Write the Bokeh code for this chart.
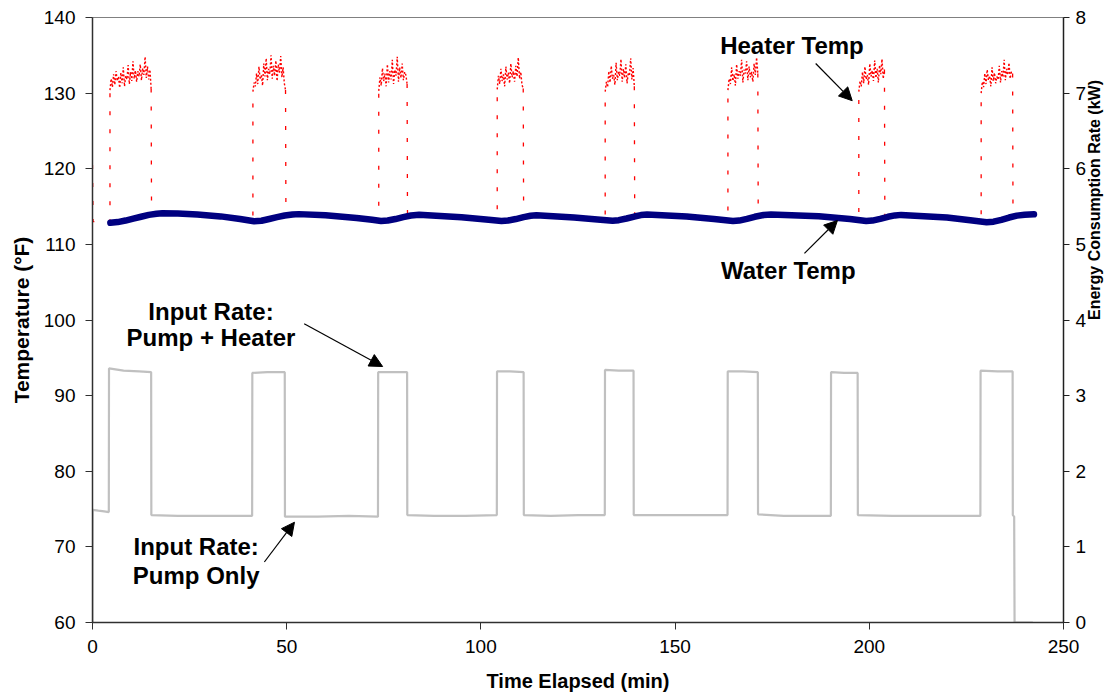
from bokeh.plotting import figure
from bokeh.models import Range1d, LinearAxis, Arrow, NormalHead, Label, FixedTicker
from bokeh.embed import file_html
from bokeh.resources import INLINE
import numpy as np

# ---------------- data ----------------
# Heater on periods (min) read for the heater-temperature trace
heater_on = [4.5, 41.3, 73.7, 104.2, 132.0, 163.6, 197.3, 228.8]
heater_off = [15.1, 49.7, 81.0, 110.9, 139.5, 171.3, 203.9, 236.9]

# Heater temperature (deg F) while heater is on, per cycle
heater_b1 = [130.4, 131.9, 130.8, 132.5, 131.1, 132.9, 131.6, 132.2, 130.7, 132.7, 131.3, 133.4, 130.9, 132.3,
             131.8, 133.7, 131.2, 132.8, 131.6, 134.2, 131.9, 133.0, 131.5, 132.9, 132.2, 133.8, 131.7, 133.3,
             132.4, 134.8, 132.0, 133.5, 131.8, 133.1, 130.6]
heater_b2 = [130.2, 131.4, 130.9, 132.6, 131.2, 133.5, 131.8, 132.4, 131.0, 133.9, 132.2, 134.6, 131.7, 133.2,
             132.5, 135.0, 131.9, 133.6, 132.3, 134.3, 131.6, 133.8, 132.7, 134.9, 132.1, 133.4, 131.3, 130.4]
heater_b3 = [130.3, 132.1, 131.0, 133.3, 131.6, 132.6, 130.9, 133.8, 131.4, 132.9, 131.8, 134.4, 131.2, 133.1,
             132.3, 134.8, 131.5, 133.4, 132.0, 133.9, 131.7, 132.8, 132.4, 131.2]
heater_b4 = [130.5, 132.3, 131.2, 133.2, 131.6, 132.5, 130.9, 133.5, 131.8, 132.7, 131.3, 133.9, 132.1, 132.9,
             131.5, 133.6, 132.2, 134.7, 131.9, 132.8, 131.1, 130.6]
heater_b5 = [130.2, 131.5, 130.8, 132.9, 131.4, 133.6, 131.9, 132.4, 131.1, 134.0, 131.7, 132.8, 132.3, 134.5,
             131.5, 133.2, 132.0, 133.8, 131.3, 132.6, 132.4, 134.6, 131.8, 133.3, 130.9]
heater_b6 = [130.4, 131.9, 131.2, 133.4, 131.6, 132.5, 131.0, 133.8, 131.9, 132.9, 132.3, 134.4, 131.4, 133.1,
             132.6, 134.2, 131.7, 133.5, 132.1, 132.8, 131.5, 133.9, 132.4, 134.7, 132.6]
heater_b7 = [130.2, 131.6, 130.9, 132.8, 131.3, 133.5, 131.8, 132.4, 131.1, 133.9, 132.2, 133.0, 131.6, 134.3,
             132.0, 133.2, 131.4, 133.7, 132.5, 134.5, 131.9, 133.1]
heater_b8 = [130.0, 131.5, 130.8, 132.6, 131.2, 133.1, 131.7, 132.3, 130.9, 133.4, 131.6, 132.7, 131.3, 132.2,
             131.8, 133.6, 131.4, 132.9, 132.1, 134.4, 131.7, 133.2, 132.4, 134.0, 131.9, 132.8, 132.6]

# Heater temperature while heater is off (between cycles)
heater_gap_t = [[0, 0.15, 4.5], [15.2, 18, 30, 41.3], [49.8, 53, 65, 73.7], [81.1, 84, 95, 104.2],
                [111.0, 114, 124, 132.0], [139.6, 143, 153, 163.6], [171.4, 175, 187, 197.3],
                [204.0, 208, 220, 228.8], [237.0, 242.0]]
heater_gap_f = [[120.5, 113.0, 113.0], [114.0, 114.1, 113.7, 112.95], [113.9, 113.95, 113.5, 113.0],
                [113.8, 113.9, 113.55, 113.0], [113.75, 113.8, 113.45, 113.05], [113.8, 113.9, 113.6, 113.0],
                [113.8, 113.9, 113.65, 113.1], [113.7, 113.85, 113.5, 112.85], [113.8, 113.9]]

# Water temperature (deg F)
water_t = [4.6, 6.5, 8.5, 10.5, 12.5, 14.5, 16.5, 18.0, 22, 27, 33, 38, 41.6, 43.5, 45.5, 47.5, 49.5, 51.5, 53.1,
           60, 68, 72, 74.3, 76, 78, 80, 82, 84.1, 95, 102, 105.3, 107, 109, 111, 112.8, 114.3, 124, 130,
           133.9, 135.5, 137.5, 139.5, 141.2, 142.8, 153, 160, 164.9, 166.5, 168.5, 170.5, 172.8, 174.7, 187,
           195, 199.2, 200.8, 202.8, 204.8, 206.6, 208.2, 220, 226, 230.2, 232, 234, 236, 238, 240, 242.4]
water_f = [112.85, 112.95, 113.15, 113.4, 113.65, 113.9, 114.05, 114.12, 114.08, 113.95, 113.7, 113.35, 113.05,
           113.12, 113.35, 113.6, 113.82, 113.95, 114.0, 113.85, 113.5, 113.25, 113.08, 113.15, 113.35, 113.6,
           113.82, 113.92, 113.6, 113.25, 113.08, 113.15, 113.35, 113.6, 113.78, 113.85, 113.55, 113.3, 113.12,
           113.2, 113.42, 113.68, 113.87, 113.95, 113.68, 113.35, 113.08, 113.15, 113.38, 113.65, 113.88,
           113.95, 113.72, 113.35, 113.08, 113.15, 113.38, 113.65, 113.83, 113.9, 113.55, 113.2, 112.92, 113.0,
           113.25, 113.55, 113.8, 113.92, 113.97]

# Input rate (kW), right axis
input_t = [0, 0.05, 1.5, 3.0, 4.2, 4.25, 8, 12, 15.1, 15.15, 22, 30, 38, 41.1, 41.15, 45, 49.5, 49.55, 58, 66,
           73.5, 73.55, 77, 81.0, 81.05, 88, 96, 104.1, 104.15, 107.5, 111.0, 111.05, 118, 125, 131.9, 131.95,
           135.5, 139.3, 139.35, 147, 155, 163.5, 163.55, 167.5, 171.3, 171.35, 178, 185, 190.1, 190.15, 193.5,
           197.0, 197.05, 206, 218, 228.6, 228.65, 233, 236.9, 236.95, 237.3, 237.4, 242.1]
input_kw = [0, 1.49, 1.48, 1.47, 1.46, 3.36, 3.33, 3.32, 3.31, 1.42, 1.41, 1.41, 1.41, 1.41, 3.30, 3.31, 3.31,
            1.40, 1.40, 1.41, 1.40, 3.31, 3.31, 3.31, 1.42, 1.41, 1.41, 1.42, 3.32, 3.32, 3.31, 1.42, 1.41, 1.42,
            1.42, 3.34, 3.33, 3.33, 1.42, 1.42, 1.42, 1.42, 3.32, 3.32, 3.31, 1.43, 1.41, 1.41, 1.41, 3.31, 3.30,
            3.30, 1.42, 1.41, 1.41, 1.41, 3.33, 3.32, 3.32, 1.42, 1.40, 0, 0]

x_ticks = [0, 50, 100, 150, 200, 250]
temp_ticks = [60, 70, 80, 90, 100, 110, 120, 130, 140]
kw_ticks = [0, 1, 2, 3, 4, 5, 6, 7, 8]

# ---------------- figure ----------------
FONT = "Liberation Sans"
p = figure(width=1118, height=696, x_range=Range1d(0, 250), y_range=Range1d(60, 140),
           output_backend="svg", toolbar_location=None,
           min_border_left=92, min_border_right=55, min_border_top=17, min_border_bottom=74)
p.extra_y_ranges = {"kw": Range1d(0, 8)}
p.xgrid.visible = False
p.ygrid.visible = False
p.outline_line_color = "#808080"
p.background_fill_color = "white"
p.border_fill_color = "white"

blocks = [heater_b1, heater_b2, heater_b3, heater_b4, heater_b5, heater_b6, heater_b7, heater_b8]
plat_xs, plat_ys = [], []
for on, off, vals in zip(heater_on, heater_off, blocks):
    plat_xs.append(list(np.linspace(on, off, len(vals))))
    plat_ys.append(vals)

conn_xs, conn_ys = [], []
for k, (gt, gf) in enumerate(zip(heater_gap_t, heater_gap_f)):
    xs, ys = list(gt), list(gf)
    if k > 0:
        xs = [plat_xs[k - 1][-1]] + xs
        ys = [plat_ys[k - 1][-1]] + ys
    if k < len(blocks):
        xs = xs + [plat_xs[k][0]]
        ys = ys + [plat_ys[k][0]]
    conn_xs.append(xs)
    conn_ys.append(ys)

# Input rate (gray)
p.line(input_t, input_kw, y_range_name="kw", line_color="#C0C0C0", line_width=2.2)
# Heater temp (red dashed)
p.multi_line(conn_xs, conn_ys, line_color="#FF0000", line_width=1.3, line_dash="4 14")
p.multi_line(plat_xs, plat_ys, line_color="#FF0000", line_width=1.4, line_dash="2 2")
# Water temp (navy)
p.line(water_t, water_f, line_color="#000080", line_width=6.5, line_join="round", line_cap="round")

# axes
for ax in [p.xaxis[0], p.yaxis[0]]:
    ax.major_label_text_font = FONT
    ax.major_label_text_font_size = "19px"
    ax.major_label_text_color = "black"
    ax.axis_label_text_font = FONT
    ax.axis_label_text_font_style = "bold"
    ax.axis_label_text_color = "black"
    ax.minor_tick_line_color = None
    ax.major_tick_in = 0
    ax.major_tick_out = 7
    ax.axis_line_color = "#303030"
    ax.axis_line_width = 1.5
    ax.major_tick_line_color = "#303030"

p.xaxis.ticker = FixedTicker(ticks=x_ticks)
p.xaxis.axis_label = "Time Elapsed (min)"
p.xaxis.axis_label_text_font_size = "20px"
p.xaxis.major_label_standoff = 10
p.xaxis.axis_label_standoff = 14

p.yaxis.ticker = FixedTicker(ticks=temp_ticks)
p.yaxis.axis_label = "Temperature (°F)"
p.yaxis.axis_label_text_font_size = "21px"
p.yaxis.major_label_standoff = 10
p.yaxis.axis_label_standoff = 8

ry = LinearAxis(y_range_name="kw", ticker=FixedTicker(ticks=kw_ticks))
ry.major_label_text_font = FONT
ry.major_label_text_font_size = "19px"
ry.major_label_text_color = "black"
ry.minor_tick_line_color = None
ry.major_tick_in = 0
ry.major_tick_out = 6
ry.major_label_standoff = 6
ry.axis_line_color = "#202020"
ry.axis_line_width = 1.5
ry.major_tick_line_color = "#202020"
ry.axis_label = "Energy Consumption Rate (kW)"
ry.axis_label_text_font = FONT
ry.axis_label_text_font_style = "bold"
ry.axis_label_text_font_size = "16px"
ry.axis_label_text_color = "black"
ry.axis_label_standoff = 5
if "axis_label_orientation" in ry.properties():
    ry.axis_label_orientation = np.pi / 2
p.add_layout(ry, "right")

# annotations
def add_label(x, y, text, align="left"):
    p.add_layout(Label(x=x, y=y, text=text, text_font=FONT, text_font_style="bold",
                       text_font_size="24px", text_baseline="middle", text_align=align, text_color="black"))

add_label(161.6, 136.3, "Heater Temp")
add_label(161.8, 106.55, "Water Temp")
add_label(30.5, 101.1, "Input Rate:", "center")
add_label(30.5, 97.7, "Pump + Heater", "center")
add_label(26.7, 70.05, "Input Rate:", "center")
add_label(26.7, 66.2, "Pump Only", "center")

def add_arrow(x0, y0, x1, y1):
    p.add_layout(Arrow(end=NormalHead(size=13, fill_color="black", line_color="black"),
                       x_start=x0, y_start=y0, x_end=x1, y_end=y1, line_color="black", line_width=1.2))

add_arrow(186.2, 133.92, 195.6, 129.0)
add_arrow(183.3, 108.8, 191.8, 113.16)
add_arrow(54.5, 99.5, 74.7, 93.85)
add_arrow(44.25, 68.0, 52.0, 73.26)

open("out.html", "w").write(file_html(p, INLINE))
